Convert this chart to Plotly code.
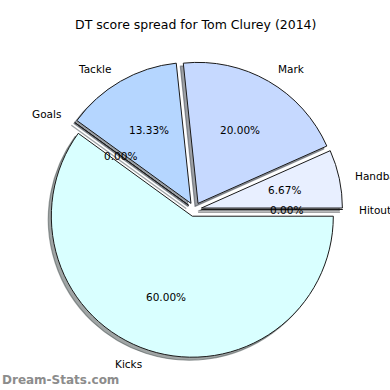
import math
import plotly.graph_objects as go

# ---- data ----
categories = ["Hitouts", "Handball", "Mark", "Tackle", "Goals", "Kicks"]
label_text = ["Hitout", "Handball", "Mark", "Tackle", "Goals", "Kicks"]
values = [0, 1, 3, 2, 0, 9]
pulls = [0.05, 0.05, 0.05, 0.05, 0.05, 0.05]
colors = ["#e8efff", "#e8efff", "#c6d9ff", "#b5d6ff", "#bfe0ff", "#d9ffff"]
title_text = "DT score spread for Tom Clurey (2014)"

W = H = 390
CX, CY, R = 194.5, 209.5, 141.0
maxpull = max(pulls)
half = R * (1 + maxpull)

def dom(cx, cy):
    return dict(x=[(cx - half) / W, (cx + half) / W],
                y=[(H - cy - half) / H, (H - cy + half) / H])

def shade(hexc):
    h = hexc.lstrip("#")
    r, g, b = (int(h[i:i + 2], 16) for i in (0, 2, 4))
    return "rgba(%d,%d,%d,0.5)" % (r * 0.3, g * 0.3, b * 0.3)

fig = go.Figure()
# shadow
fig.add_trace(go.Pie(
    labels=categories, values=values, pull=pulls, sort=False,
    direction="counterclockwise", rotation=90, textinfo="none",
    hoverinfo="skip", showlegend=False, domain=dom(CX - 3, CY + 3),
    marker=dict(colors=[shade(c) for c in colors],
                line=dict(color=[shade(c) for c in colors], width=1.2)),
))
# main pie
fig.add_trace(go.Pie(
    labels=categories, values=values, pull=pulls, sort=False,
    direction="counterclockwise", rotation=90, textinfo="none",
    showlegend=False, domain=dom(CX, CY),
    marker=dict(colors=colors, line=dict(color="#1a1a1a", width=1)),
))

total = sum(values)
annotations = []
start = 0.0
font_small = dict(family="DejaVu Sans", size=10.5, color="black")
for lab, v, p in zip(label_text, values, pulls):
    span = 360.0 * v / total
    mid = math.radians(start + span / 2)
    start += span
    d = p * R
    c, s = math.cos(mid), math.sin(mid)
    # percentage inside
    pr = 0.6 * R + d
    annotations.append(dict(
        x=(CX + pr * c) / W, y=1 - (CY - pr * s) / H, xref="paper", yref="paper",
        text="%.2f%%" % (100.0 * v / total), showarrow=False,
        xanchor="center", yanchor="middle", font=font_small))
    lr = 1.1 * R + d
    annotations.append(dict(
        x=(CX + lr * c) / W, y=1 - (CY - lr * s) / H, xref="paper", yref="paper",
        text=lab, showarrow=False,
        xanchor="left" if c > 0 else "right", yanchor="middle", font=font_small))

annotations.append(dict(
    x=195 / W, y=1 - 25 / H, xref="paper", yref="paper", text=title_text,
    showarrow=False, xanchor="center", yanchor="middle",
    font=dict(family="DejaVu Sans", size=12.5, color="black")))
annotations.append(dict(
    x=0, y=1 - 380 / H, xref="paper", yref="paper", text="Dream-Stats.com",
    showarrow=False, xanchor="left", yanchor="middle",
    font=dict(family="DejaVu Sans", size=12, color="#8c8c8c", weight="bold")))

fig.update_layout(
    width=W, height=H, margin=dict(l=0, r=0, t=0, b=0),
    paper_bgcolor="white", plot_bgcolor="white",
    annotations=annotations,
)
fig.write_html("out.html", config={"displayModeBar": False},
               post_script="document.body.style.margin='0';")
